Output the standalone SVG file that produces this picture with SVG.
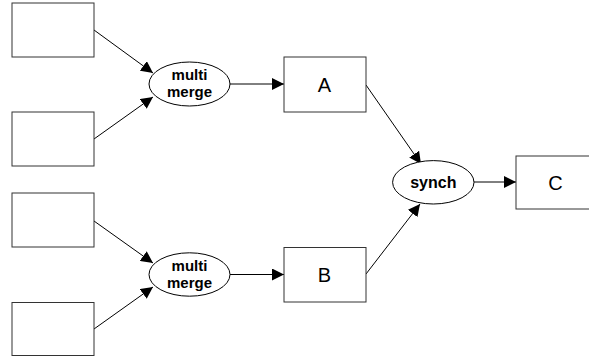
<svg xmlns="http://www.w3.org/2000/svg" width="589" height="360" viewBox="0 0 589 360">
<style>
.box{fill:#fff;stroke:#333;stroke-width:1}
.ell{fill:#fff;stroke:#000;stroke-width:1}
.edge{fill:none;stroke:#000;stroke-width:1}
.lbl{font-family:"Liberation Sans",Arial,sans-serif;font-size:15px;font-weight:bold;text-anchor:middle;fill:#000}
.big{font-family:"Liberation Sans",Arial,sans-serif;font-size:20px;text-anchor:middle;fill:#000}
</style>
<defs>
<marker id="arr" markerUnits="userSpaceOnUse" markerWidth="12" markerHeight="12" refX="12" refY="6" orient="auto" viewBox="0 0 12 12">
<path d="M0,0 L12,6 L0,12 z" fill="#000"/>
</marker>
</defs>
<rect width="589" height="360" fill="#fff"/>
<g id="connectors">
<line class="edge" x1="94" y1="30" x2="153" y2="73" marker-end="url(#arr)"/>
<line class="edge" x1="94" y1="139" x2="153" y2="97" marker-end="url(#arr)"/>
<line class="edge" x1="230" y1="84" x2="284" y2="84" marker-end="url(#arr)"/>
<line class="edge" x1="94" y1="221" x2="153" y2="263" marker-end="url(#arr)"/>
<line class="edge" x1="94" y1="329" x2="153" y2="287" marker-end="url(#arr)"/>
<line class="edge" x1="230" y1="274.5" x2="284" y2="274.5" marker-end="url(#arr)"/>
<line class="edge" x1="366" y1="85" x2="421" y2="164" marker-end="url(#arr)"/>
<line class="edge" x1="366" y1="274" x2="420" y2="204" marker-end="url(#arr)"/>
<line class="edge" x1="474" y1="182" x2="516" y2="182" marker-end="url(#arr)"/>
</g>
<g id="src1"><rect class="box" x="12" y="3" width="82" height="54"/></g>
<g id="src2"><rect class="box" x="12" y="112" width="82" height="54"/></g>
<g id="src3"><rect class="box" x="12" y="193" width="82" height="54"/></g>
<g id="src4"><rect class="box" x="12" y="302.5" width="82" height="53"/></g>
<g id="merge1">
<ellipse class="ell" cx="189.5" cy="84" rx="40.5" ry="22"/>
<text class="lbl" x="189.5" y="80">multi</text>
<text class="lbl" x="189.5" y="97">merge</text>
</g>
<g id="merge2">
<ellipse class="ell" cx="189.5" cy="274.5" rx="40.5" ry="21.7"/>
<text class="lbl" x="189.5" y="270.5">multi</text>
<text class="lbl" x="189.5" y="287.5">merge</text>
</g>
<g id="A">
<rect class="box" x="284" y="57" width="82" height="55"/>
<text class="big" x="324.5" y="92">A</text>
</g>
<g id="B">
<rect class="box" x="284" y="247.5" width="82" height="54.5"/>
<text class="big" x="324.5" y="282">B</text>
</g>
<g id="synch">
<ellipse class="ell" cx="433.3" cy="182.3" rx="40.7" ry="21.7"/>
<text class="lbl" x="433.3" y="188" style="font-size:16px">synch</text>
</g>
<g id="C">
<rect class="box" x="516" y="156" width="82" height="53"/>
<text class="big" x="555.5" y="190">C</text>
</g>
</svg>
